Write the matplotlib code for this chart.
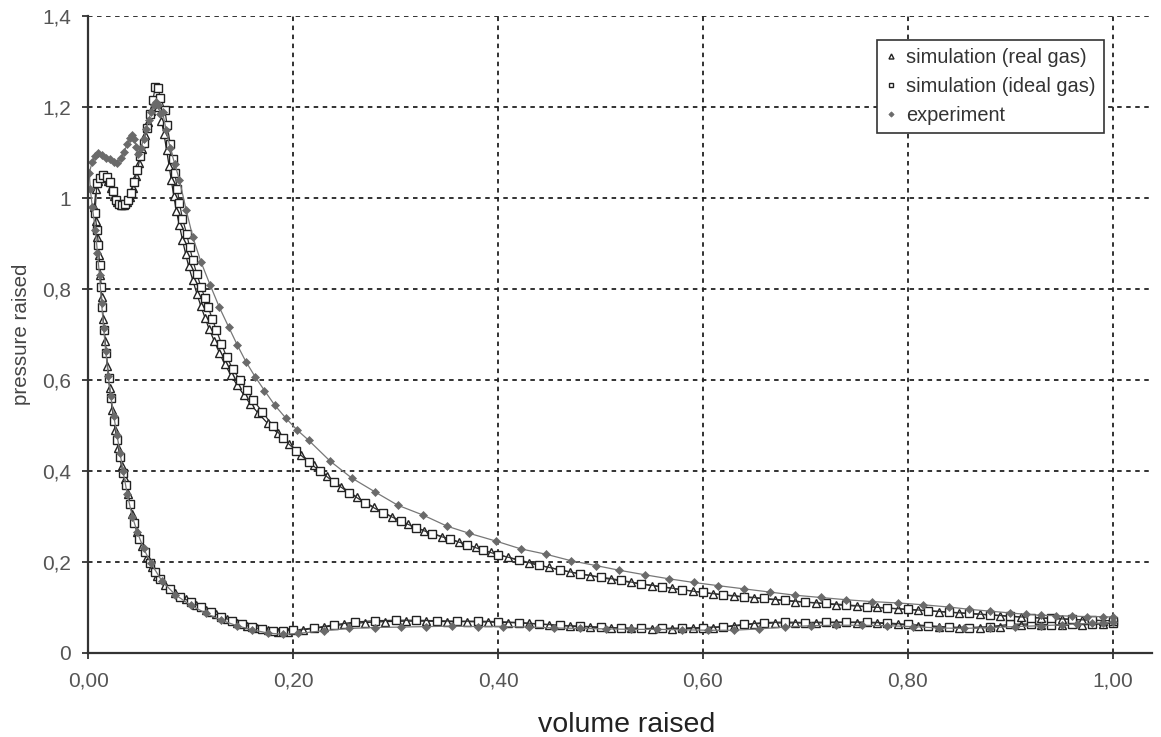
import matplotlib
matplotlib.use("Agg")
import matplotlib.pyplot as plt
from matplotlib.ticker import FuncFormatter

plt.rcParams['font.family'] = ['Liberation Sans', 'DejaVu Sans']

# --- simulation (ideal gas): lower branch (1.0 -> TDC), combustion, expansion ---
ideal_v = [1.00, 0.98, 0.96, 0.94, 0.92, 0.90, 0.88, 0.86, 0.84, 0.82, 0.80, 0.78, 0.76, 0.74,
           0.72, 0.70, 0.68, 0.66, 0.64, 0.62, 0.60, 0.58, 0.56, 0.54, 0.52, 0.50, 0.48, 0.46,
           0.44, 0.42, 0.40, 0.38, 0.36, 0.34, 0.32, 0.30, 0.28, 0.26, 0.24, 0.22, 0.20, 0.19,
           0.18, 0.17, 0.16, 0.15, 0.14, 0.13, 0.12, 0.11, 0.10, 0.09, 0.08, 0.07, 0.065, 0.06,
           0.055, 0.05, 0.045, 0.041, 0.037, 0.034, 0.031, 0.028, 0.025, 0.022, 0.020, 0.0175,
           0.0155, 0.0135, 0.0125, 0.011, 0.010, 0.0085, 0.0066,
           0.0085, 0.0115, 0.0146, 0.018, 0.021, 0.024, 0.027, 0.030, 0.033, 0.036, 0.039, 0.042,
           0.045, 0.048, 0.051, 0.054, 0.057, 0.060, 0.063, 0.0655, 0.068,
           0.0705, 0.0748, 0.077, 0.080, 0.0825, 0.0845, 0.087, 0.089, 0.092, 0.096, 0.099, 0.102,
           0.106, 0.110, 0.114, 0.117, 0.121, 0.125, 0.130, 0.135, 0.141, 0.148, 0.155, 0.161,
           0.170, 0.180, 0.190, 0.203, 0.215, 0.226, 0.240, 0.255, 0.270, 0.288, 0.305, 0.320,
           0.336, 0.353, 0.370, 0.385, 0.400, 0.42, 0.44, 0.46, 0.48, 0.50, 0.52, 0.54, 0.56,
           0.58, 0.60, 0.62, 0.64, 0.66, 0.68, 0.70, 0.72, 0.74, 0.76, 0.78, 0.80, 0.82, 0.84,
           0.86, 0.88, 0.90, 0.92, 0.94, 0.96, 0.98, 1.00]
ideal_p = [0.066, 0.064, 0.063, 0.062, 0.064, 0.063, 0.058, 0.056, 0.057, 0.060, 0.063, 0.066, 0.068, 0.068,
           0.068, 0.067, 0.068, 0.067, 0.063, 0.058, 0.056, 0.055, 0.054, 0.054, 0.055, 0.057, 0.059, 0.061,
           0.064, 0.067, 0.069, 0.070, 0.070, 0.071, 0.072, 0.072, 0.071, 0.068, 0.062, 0.055, 0.050, 0.048,
           0.049, 0.052, 0.057, 0.063, 0.071, 0.080, 0.090, 0.101, 0.112, 0.124, 0.140, 0.163, 0.178, 0.198,
           0.222, 0.250, 0.285, 0.328, 0.370, 0.395, 0.430, 0.468, 0.510, 0.560, 0.604, 0.660,
           0.710, 0.760, 0.805, 0.853, 0.897, 0.930, 0.967,
           1.033, 1.045, 1.050, 1.047, 1.035, 1.015, 0.997, 0.988, 0.985, 0.988, 0.996, 1.012,
           1.035, 1.062, 1.092, 1.122, 1.155, 1.185, 1.215, 1.245, 1.243,
           1.220, 1.194, 1.160, 1.120, 1.085, 1.055, 1.020, 0.989, 0.955, 0.922, 0.892, 0.864,
           0.833, 0.805, 0.780, 0.761, 0.735, 0.710, 0.680, 0.651, 0.625, 0.600, 0.578, 0.556,
           0.530, 0.500, 0.472, 0.444, 0.420, 0.400, 0.375, 0.352, 0.330, 0.308, 0.290, 0.275,
           0.262, 0.250, 0.238, 0.226, 0.216, 0.205, 0.193, 0.183, 0.174, 0.167, 0.160, 0.152, 0.146,
           0.139, 0.133, 0.128, 0.124, 0.120, 0.116, 0.112, 0.109, 0.106, 0.102, 0.099, 0.096, 0.093, 0.090,
           0.087, 0.084, 0.081, 0.078, 0.076, 0.074, 0.072, 0.071]

# --- simulation (real gas) ---
real_v = [0.99, 0.97, 0.95, 0.93, 0.91, 0.89, 0.87, 0.85, 0.83, 0.81, 0.79, 0.77, 0.75, 0.73, 0.71,
          0.69, 0.67, 0.65, 0.63, 0.61, 0.59, 0.57, 0.55, 0.53, 0.51, 0.49, 0.47, 0.45, 0.43, 0.41,
          0.39, 0.37, 0.35, 0.33, 0.31, 0.29, 0.27, 0.25, 0.23, 0.21, 0.195, 0.185, 0.175, 0.165,
          0.155, 0.145, 0.135, 0.125, 0.115, 0.105, 0.095, 0.085, 0.075, 0.0675, 0.0625, 0.0575,
          0.0525, 0.0475, 0.043, 0.039, 0.0355, 0.0325, 0.0295, 0.0265, 0.0235, 0.021, 0.0185,
          0.0165, 0.0145, 0.013, 0.0118, 0.0105, 0.009, 0.0075, 0.006,
          0.0075, 0.010, 0.013, 0.0165, 0.0195, 0.0225, 0.0255, 0.0285, 0.0315, 0.0345, 0.0375,
          0.0405, 0.0435, 0.0465, 0.0495, 0.0525, 0.0555, 0.0585, 0.0615, 0.065, 0.068,
          0.0715, 0.074, 0.0765, 0.079, 0.081, 0.0835, 0.086, 0.089, 0.092, 0.095, 0.098, 0.102,
          0.106, 0.110, 0.114, 0.118, 0.123, 0.128, 0.133, 0.139, 0.145, 0.152, 0.158, 0.166,
          0.175, 0.185, 0.196, 0.208, 0.220, 0.233, 0.247, 0.262, 0.279, 0.296, 0.312, 0.328,
          0.345, 0.362, 0.378, 0.393, 0.41, 0.43, 0.45, 0.47, 0.49, 0.51, 0.53, 0.55, 0.57, 0.59,
          0.61, 0.63, 0.65, 0.67, 0.69, 0.71, 0.73, 0.75, 0.77, 0.79, 0.81, 0.83, 0.85, 0.87,
          0.89, 0.91, 0.93, 0.95, 0.97, 0.99]
real_p = [0.064, 0.062, 0.061, 0.062, 0.061, 0.058, 0.055, 0.055, 0.057, 0.060, 0.063, 0.066, 0.067, 0.067, 0.066,
          0.066, 0.066, 0.064, 0.059, 0.056, 0.054, 0.053, 0.053, 0.054, 0.055, 0.057, 0.059, 0.062, 0.065, 0.067,
          0.068, 0.069, 0.069, 0.070, 0.070, 0.069, 0.067, 0.063, 0.057, 0.051, 0.047, 0.047, 0.050, 0.054,
          0.060, 0.066, 0.075, 0.085, 0.095, 0.106, 0.118, 0.131, 0.150, 0.170, 0.188, 0.210,
          0.236, 0.267, 0.305, 0.350, 0.383, 0.412, 0.450, 0.490, 0.535, 0.582, 0.632,
          0.685, 0.735, 0.782, 0.830, 0.875, 0.915, 0.950, 0.980,
          1.020, 1.038, 1.046, 1.045, 1.038, 1.022, 1.005, 0.992, 0.986, 0.986, 0.991,
          1.003, 1.022, 1.048, 1.077, 1.107, 1.138, 1.168, 1.192, 1.210, 1.200,
          1.170, 1.140, 1.105, 1.070, 1.040, 1.005, 0.972, 0.940, 0.908, 0.878, 0.850, 0.820,
          0.790, 0.762, 0.737, 0.712, 0.686, 0.660, 0.636, 0.612, 0.590, 0.567, 0.548, 0.527,
          0.505, 0.483, 0.460, 0.436, 0.413, 0.390, 0.366, 0.343, 0.320, 0.300, 0.283, 0.269,
          0.256, 0.244, 0.232, 0.221, 0.210, 0.198, 0.188, 0.178, 0.170, 0.162, 0.155, 0.148, 0.142, 0.136,
          0.130, 0.125, 0.121, 0.117, 0.113, 0.110, 0.106, 0.103, 0.100, 0.097, 0.094, 0.091, 0.088, 0.085,
          0.082, 0.079, 0.077, 0.075, 0.073, 0.071]

# --- experiment ---
exp_v = [1.00, 0.99, 0.98, 0.965, 0.95, 0.93, 0.905, 0.88, 0.855, 0.83, 0.805, 0.78, 0.755, 0.73,
         0.705, 0.68, 0.655, 0.63, 0.605, 0.58, 0.555, 0.53, 0.505, 0.48, 0.455, 0.43, 0.405, 0.38,
         0.355, 0.33, 0.305, 0.28, 0.255, 0.23, 0.205, 0.19, 0.175, 0.16, 0.145, 0.13, 0.115, 0.10,
         0.085, 0.072, 0.061, 0.054, 0.048, 0.043, 0.038, 0.034, 0.031, 0.028, 0.025, 0.022, 0.0195,
         0.017, 0.015, 0.013, 0.011, 0.009, 0.007, 0.004, 0.002, 0.001,
         0.004, 0.0065, 0.0098, 0.0135, 0.0175, 0.021, 0.025, 0.0285, 0.032, 0.035, 0.038, 0.041,
         0.043, 0.045, 0.047, 0.049, 0.0515, 0.054, 0.0565, 0.059, 0.0615, 0.064, 0.066, 0.068,
         0.0705, 0.0725, 0.076, 0.080, 0.0845, 0.089, 0.0955, 0.102, 0.110, 0.119, 0.128, 0.137,
         0.1455, 0.154, 0.163, 0.172, 0.182, 0.193, 0.204, 0.215, 0.236, 0.257, 0.280, 0.302,
         0.327, 0.350, 0.372, 0.398, 0.422, 0.447, 0.471, 0.496, 0.518, 0.543, 0.567, 0.591,
         0.615, 0.64, 0.665, 0.69, 0.715, 0.74, 0.765, 0.79, 0.815, 0.84, 0.86, 0.88, 0.90,
         0.915, 0.93, 0.945, 0.96, 0.975, 0.99, 1.00]
exp_p = [0.068, 0.066, 0.065, 0.064, 0.062, 0.060, 0.058, 0.056, 0.054, 0.055, 0.058, 0.060, 0.061, 0.061,
         0.060, 0.057, 0.053, 0.050, 0.050, 0.051, 0.052, 0.052, 0.053, 0.054, 0.055, 0.057, 0.058, 0.058,
         0.059, 0.058, 0.057, 0.056, 0.054, 0.049, 0.043, 0.041, 0.044, 0.051, 0.060, 0.072, 0.087, 0.105,
         0.128, 0.158, 0.198, 0.230, 0.265, 0.300, 0.350, 0.400, 0.440, 0.480, 0.520, 0.565, 0.610,
         0.665, 0.715, 0.770, 0.830, 0.880, 0.930, 0.980, 1.020, 1.056,
         1.080, 1.093, 1.099, 1.095, 1.089, 1.086, 1.079, 1.078, 1.088, 1.102, 1.118, 1.132,
         1.139, 1.130, 1.113, 1.098, 1.110, 1.130, 1.152, 1.172, 1.190, 1.205, 1.212, 1.205,
         1.185, 1.190, 1.150, 1.110, 1.075, 1.040, 0.975, 0.915, 0.860, 0.809, 0.760, 0.717,
         0.677, 0.640, 0.607, 0.577, 0.545, 0.516, 0.490, 0.468, 0.422, 0.385, 0.354, 0.325,
         0.303, 0.279, 0.263, 0.246, 0.229, 0.217, 0.203, 0.192, 0.182, 0.172, 0.163, 0.155,
         0.148, 0.141, 0.134, 0.127, 0.122, 0.117, 0.113, 0.110, 0.106, 0.101, 0.096, 0.092, 0.088,
         0.085, 0.083, 0.082, 0.081, 0.080, 0.080, 0.079]

x_ticks = [0.0, 0.2, 0.4, 0.6, 0.8, 1.0]
y_ticks = [0.0, 0.2, 0.4, 0.6, 0.8, 1.0, 1.2, 1.4]

fig = plt.figure(figsize=(11.61, 7.37), dpi=100)
ax = fig.add_axes([0.076, 0.114, 0.916, 0.864])

ax.plot(real_v, real_p, color='#222222', lw=0.9, marker='^', ms=6, mfc='white',
        mec='#222222', mew=1.0, label='simulation (real gas)')
ax.plot(ideal_v, ideal_p, color='#333333', lw=0.9, marker='s', ms=5.5, mfc='white',
        mec='#222222', mew=1.0, label='simulation (ideal gas)')
ax.plot(exp_v, exp_p, color='#777777', lw=0.9, marker='D', ms=4.5, mfc='#6a6a6a',
        mec='#6a6a6a', mew=0.5, label='experiment')

ax.set_xlim(0, 1.038)
ax.set_ylim(0, 1.4)
ax.set_xticks(x_ticks)
ax.set_yticks(y_ticks)
ax.xaxis.set_major_formatter(FuncFormatter(lambda v, p: f"{v:.2f}".replace('.', ',')))
ax.yaxis.set_major_formatter(FuncFormatter(lambda v, p: f"{v:g}".replace('.', ',')))

ax.grid(True, color='#222222', linestyle=(0, (2.5, 2.5)), linewidth=1.3)
ax.set_axisbelow(True)
for s in ['top', 'right']:
    ax.spines[s].set_visible(False)
for s in ['left', 'bottom']:
    ax.spines[s].set_color('#333333')
    ax.spines[s].set_linewidth(1.6)
ax.tick_params(direction='out', length=4.5, width=1.3, color='#333333',
               labelsize=15, labelcolor='#555555')
ax.tick_params(axis='y', pad=8)
ax.tick_params(axis='x', pad=8.5)

ax.set_xlabel('volume raised', fontsize=20.5, color='#222222')
ax.xaxis.set_label_coords(0.506, -0.092)
ax.set_ylabel('pressure raised', fontsize=14.8, color='#444444', labelpad=8)

leg = ax.legend(loc='upper right', bbox_to_anchor=(0.955, 0.963), fontsize=14.4,
                frameon=True, fancybox=False, edgecolor='#333333', framealpha=1,
                borderpad=0.4, labelspacing=0.5, handlelength=0.6, handletextpad=0.45,
                borderaxespad=0.0, markerscale=0.6)
leg.get_frame().set_linewidth(1.2)
for t in leg.get_texts():
    t.set_color('#333333')
for h in leg.legend_handles:
    h.set_linestyle('none')

fig.savefig('out.png', dpi=100)
